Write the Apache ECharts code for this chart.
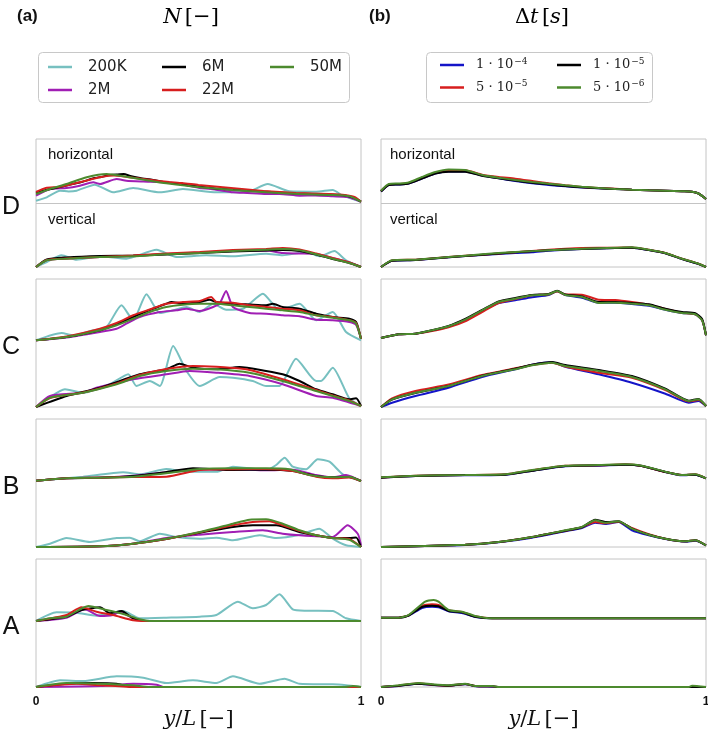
<!DOCTYPE html>
<html><head><meta charset="utf-8">
<script src="https://cdn.jsdelivr.net/npm/echarts@6/dist/echarts.min.js"></script>
<style>html,body{margin:0;padding:0;background:#fff}#c{width:708px;height:732px}</style>
</head><body><div id="c"></div>
<script>
// ---------- categories / names ----------
const rows = ['D','C','B','A'];
const namesA = ['200K','2M','6M','22M','50M'];
const colorsA = ['#77c0c0','#a01eb4','#000000','#d71e1e','#4c8a2e'];
const namesB = ['1 · 10⁻⁴','5 · 10⁻⁵','1 · 10⁻⁵','5 · 10⁻⁶'];
const labelsB = ['{n|1 · 10}{s|−4}','{n|5 · 10}{s|−5}','{n|1 · 10}{s|−5}','{n|5 · 10}{s|−6}'];
const colorsB = ['#1414c8','#d71e1e','#000000','#4c8a2e'];
const xTicks = [0, 1];

// ---------- column (a), panel D ----------
const aD_h_200K = [[0,2.3],[0.033,5.7],[0.074,12.3],[0.10,11.5],[0.125,12.3],[0.181,18.3],[0.237,10.7],[0.299,15],[0.381,10.7],[0.452,14],[0.555,10.7],[0.647,10.7],[0.713,19],[0.780,11.7],[0.862,11.3],[0.913,13],[0.944,7.3],[1,1.3]];
const aD_h_2M = [[0,7.3],[0.043,14],[0.094,15],[0.135,17.3],[0.176,20.7],[0.197,19],[0.248,24],[0.278,22.3],[0.33,21.5],[0.401,20.7],[0.45,18.5],[0.504,15],[0.55,13.5],[0.606,10.7],[0.65,10],[0.708,9],[0.75,9],[0.811,7.3],[0.86,7.5],[0.913,6.7],[0.96,6],[1,1.3]];
const aD_h_6M = [[0,10],[0.03,13],[0.06,15],[0.094,17.5],[0.14,21],[0.18,25],[0.2,26],[0.22,27.5],[0.25,28.5],[0.27,29],[0.29,27],[0.32,25],[0.36,23],[0.40,20.5],[0.45,18.5],[0.5,16.5],[0.55,14.5],[0.6,13.5],[0.65,12.5],[0.7,11.5],[0.75,10.5],[0.8,9.5],[0.85,9],[0.9,8.5],[0.95,7.5],[0.98,5],[1,1.3]];
const aD_h_22M = [[0,11],[0.03,15],[0.07,16],[0.1,18],[0.15,22],[0.2,26],[0.24,27.5],[0.28,26],[0.33,24],[0.38,22],[0.41,21],[0.45,20],[0.5,18],[0.55,16.5],[0.6,15],[0.65,13.5],[0.7,12],[0.75,11],[0.8,10],[0.85,9.5],[0.9,9],[0.95,8],[0.98,6],[1,1.3]];
const aD_h_50M = [[0,9],[0.043,14],[0.094,19],[0.156,25.7],[0.217,29],[0.278,26.3],[0.350,22.3],[0.401,19.7],[0.504,15.7],[0.606,13],[0.708,10.7],[0.811,9],[0.913,8],[0.964,6.7],[1,1.3]];
const aD_v_200K = [[0,0],[0.033,5],[0.079,11.7],[0.125,7.3],[0.197,10.7],[0.278,8.3],[0.371,17.3],[0.432,10],[0.524,11.7],[0.606,10.7],[0.708,13.3],[0.759,11.7],[0.831,15],[0.872,10.7],[0.918,16],[0.954,6.7],[1,0]];
const aD_v_2M = [[0,0],[0.033,7],[0.094,8.5],[0.197,10],[0.299,11],[0.401,13],[0.504,14.5],[0.606,16],[0.708,16.5],[0.759,14],[0.811,13.5],[0.862,13],[0.913,9],[0.964,4.5],[1,0]];
const aD_v_6M = [[0,0],[0.033,7.5],[0.094,9.5],[0.197,11],[0.299,11.5],[0.401,12.5],[0.504,14],[0.606,15.5],[0.708,16.5],[0.759,17],[0.811,16],[0.862,12.5],[0.913,8],[0.964,4],[1,0]];
const aD_v_22M = [[0,0],[0.033,7],[0.094,8.5],[0.197,10],[0.299,11.5],[0.401,13.5],[0.504,15],[0.606,17],[0.708,18],[0.759,19],[0.811,17.5],[0.862,13.5],[0.913,9],[0.964,4.5],[1,0]];
const aD_v_50M = [[0,0],[0.033,6.7],[0.094,8.3],[0.197,10],[0.299,10.7],[0.401,12.7],[0.504,14],[0.606,16],[0.708,17.3],[0.759,18],[0.811,16.7],[0.862,12.7],[0.913,8.3],[0.964,4],[1,0]];

// ---------- column (a), panel C ----------
const aC_h_200K = [[0,2.7],[0.079,10],[0.115,7.7],[0.176,12.7],[0.217,16],[0.263,37.7],[0.299,22.7],[0.340,48.7],[0.381,30],[0.422,32.7],[0.463,36],[0.504,31],[0.545,39.3],[0.585,33.3],[0.637,34.3],[0.698,49.3],[0.749,32.7],[0.811,39.3],[0.862,22.7],[0.913,31],[0.954,11],[1,2.7]];
const aC_h_2M = [[0,2.7],[0.094,5.5],[0.197,11],[0.248,14.3],[0.278,19.3],[0.319,26],[0.381,31],[0.432,32.7],[0.463,34.3],[0.504,32],[0.545,36],[0.565,39.3],[0.585,52],[0.606,36],[0.657,30],[0.708,29.3],[0.759,27.7],[0.811,26.7],[0.862,23.3],[0.913,22.7],[0.964,21],[0.985,18],[1,4.3]];
const aC_h_6M = [[0,2.7],[0.094,6],[0.197,12.7],[0.248,19],[0.299,26],[0.350,33],[0.401,39.3],[0.417,41],[0.452,39.3],[0.504,41],[0.534,43.3],[0.555,41],[0.606,39.3],[0.657,38.5],[0.708,37.7],[0.729,39.3],[0.759,36],[0.811,34.3],[0.862,29.3],[0.913,26],[0.964,24.3],[0.985,21],[1,4.3]];
const aC_h_22M = [[0,2.7],[0.094,6.5],[0.197,14.3],[0.248,20],[0.299,27.7],[0.350,33.5],[0.401,39.3],[0.452,41],[0.504,42],[0.539,46],[0.555,41],[0.606,40.3],[0.657,37.7],[0.708,36],[0.759,34.3],[0.811,32.7],[0.862,27.7],[0.913,26],[0.964,22.7],[0.985,20],[1,4.3]];
const aC_h_50M = [[0,2.7],[0.094,6],[0.197,12.7],[0.248,17.7],[0.299,24.3],[0.350,31],[0.401,36],[0.452,38.3],[0.504,39.3],[0.555,39.3],[0.606,37.7],[0.657,36],[0.708,34.3],[0.759,32.7],[0.811,31],[0.862,27.7],[0.913,25.3],[0.964,22.7],[0.985,19.3],[1,4.3]];
const aC_v_200K = [[0,0],[0.033,7.7],[0.089,17.7],[0.145,14.3],[0.227,22.7],[0.284,32.7],[0.309,21],[0.350,26],[0.381,21],[0.422,61],[0.463,36],[0.504,21],[0.565,30],[0.606,29.3],[0.667,26],[0.708,21],[0.749,21],[0.800,48.3],[0.862,26],[0.877,26],[0.913,39.3],[0.964,8.7],[1,1]];
const aC_v_2M = [[0,0],[0.043,11],[0.145,14.3],[0.186,19.3],[0.299,27.7],[0.401,32.7],[0.473,36],[0.555,34.3],[0.657,31],[0.759,22.7],[0.862,11],[0.913,9.3],[1,1]];
const aC_v_6M = [[0,0],[0.094,11],[0.197,19.3],[0.319,32.7],[0.401,37.7],[0.442,43.3],[0.483,39.3],[0.555,37.7],[0.626,40],[0.708,36],[0.759,32.7],[0.811,26],[0.862,17.7],[0.913,12.7],[0.964,7.7],[0.985,8.7],[1,1]];
const aC_v_22M = [[0,0],[0.043,9],[0.145,14.5],[0.248,23.5],[0.319,32],[0.401,38],[0.483,41],[0.555,40.3],[0.606,39],[0.657,37],[0.759,27.7],[0.862,17],[0.913,11.5],[0.964,6.5],[1,1]];
const aC_v_50M = [[0,0],[0.043,9.3],[0.145,14.3],[0.248,22.7],[0.319,31],[0.401,36],[0.483,38.3],[0.555,37.7],[0.657,34.3],[0.759,26],[0.862,16],[0.913,11],[0.964,6],[1,1]];

// ---------- column (a), panel B ----------
const aB_h_200K = [[0,2.3],[0.145,6.3],[0.268,10.7],[0.319,8.7],[0.401,14],[0.463,11.3],[0.555,11.3],[0.606,16.3],[0.708,13],[0.739,18],[0.765,25.3],[0.790,16.3],[0.831,13.7],[0.867,23.7],[0.903,21.3],[0.944,8.7],[1,2]];
const aB_h_2M = [[0,2.3],[0.094,4.7],[0.197,5.5],[0.299,7.3],[0.401,10.7],[0.504,13.3],[0.606,13.7],[0.708,12.7],[0.790,13.3],[0.862,8],[0.913,5.7],[0.954,8],[1,2]];
const aB_h_6M = [[0,2.3],[0.094,4.7],[0.197,5.3],[0.299,7],[0.401,11],[0.483,14.7],[0.606,13],[0.708,13.3],[0.790,12],[0.862,7],[0.913,5.7],[0.964,6],[1,2]];
const aB_h_22M = [[0,2.3],[0.094,4.7],[0.197,5.3],[0.299,6],[0.401,6.3],[0.504,13],[0.606,13.7],[0.708,14],[0.790,12],[0.862,6.3],[0.913,4.7],[0.964,5.5],[1,2]];
const aB_h_50M = [[0,2.3],[0.094,4.7],[0.197,5.3],[0.299,6.3],[0.401,9.7],[0.504,14],[0.606,14.7],[0.708,14.7],[0.780,13.7],[0.841,8],[0.913,5.7],[0.964,6.3],[1,2]];
const aB_v_200K = [[0,0],[0.043,3.3],[0.094,9],[0.166,5],[0.248,9],[0.289,9.3],[0.319,5.7],[0.381,13.3],[0.432,10],[0.504,8.3],[0.555,9.3],[0.606,6.7],[0.688,11.7],[0.739,9],[0.811,12.3],[0.872,18.3],[0.913,8.3],[0.954,1.7],[1,0]];
const aB_v_2M = [[0,0],[0.197,0.7],[0.299,3.3],[0.401,9],[0.504,12.3],[0.606,15],[0.698,16.7],[0.759,13.3],[0.811,11.7],[0.913,10],[0.959,21.7],[0.990,13.3],[1,1.7]];
const aB_v_6M = [[0,0],[0.197,0.7],[0.299,3.3],[0.401,8],[0.504,14.3],[0.606,20],[0.667,21.7],[0.739,21.7],[0.811,15],[0.862,11.7],[0.913,9],[0.964,9],[0.985,9.5],[1,0]];
const aB_v_22M = [[0,0],[0.197,0.7],[0.299,3.3],[0.401,8],[0.504,14.7],[0.606,21.7],[0.667,25],[0.718,25.7],[0.759,21.7],[0.811,16],[0.862,11.7],[0.913,9],[0.964,8],[1,0]];
const aB_v_50M = [[0,0],[0.197,0.7],[0.299,3.3],[0.401,8.3],[0.504,15],[0.606,23.3],[0.657,27.3],[0.708,27.7],[0.759,23.3],[0.811,16.7],[0.862,11.7],[0.913,9],[0.964,7.3],[1,0]];

// ---------- column (a), panel A ----------
const aA_h_200K = [[0,2],[0.063,10.7],[0.125,10.3],[0.186,7.3],[0.268,12],[0.319,4.7],[0.401,5.3],[0.504,6.3],[0.555,8],[0.621,21.3],[0.667,14.7],[0.708,18],[0.749,28.7],[0.790,13.7],[0.831,12.3],[0.913,12],[0.954,4.7],[1,2]];
const aA_h_2M = [[0,2],[0.094,5.3],[0.150,13.7],[0.197,7],[0.237,8],[0.258,11.3],[0.299,4.7],[0.330,2],[1,2]];
const aA_h_6M = [[0,2],[0.094,6.3],[0.135,12.3],[0.197,15.7],[0.227,9.7],[0.263,12],[0.299,4.7],[0.340,2],[1,2]];
const aA_h_22M = [[0,2],[0.094,8],[0.140,15.7],[0.186,11.3],[0.237,8],[0.299,2.7],[0.330,2],[1,2]];
const aA_h_50M = [[0,2],[0.043,4.7],[0.094,6.3],[0.161,17],[0.217,13],[0.268,9],[0.319,3.7],[0.350,2],[1,2]];
const aA_v_200K = [[0,0],[0.074,6.7],[0.145,6],[0.248,10.7],[0.330,9.3],[0.401,4],[0.483,6.7],[0.555,4],[0.606,10.7],[0.688,3.3],[0.765,8.3],[0.811,3.3],[0.913,2.7],[0.954,1.7],[1,0]];
const aA_v_2M = [[0,0],[0.2,1],[0.299,3.3],[0.371,2.3],[0.391,0],[1,0]];
const aA_v_6M = [[0,0],[0.094,3.3],[0.176,4],[0.248,3.3],[0.299,0],[1,0]];
const aA_v_22M = [[0,0],[0.125,3.3],[0.197,1.7],[0.30,0],[1,0]];
const aA_v_50M = [[0,0],[0.094,4],[0.197,3.3],[0.299,1.7],[0.350,0],[0.95,0],[0.975,1],[1,0]];

// ---------- column (b), panel D ----------
const bD_h_1e4 = [[0,11.5],[0.024,18],[0.054,18.5],[0.085,19.5],[0.126,24.5],[0.167,29.5],[0.208,31.5],[0.259,31.5],[0.311,27.5],[0.362,24.7],[0.413,22],[0.465,19.7],[0.516,18],[0.567,16.7],[0.618,15.5],[0.670,14.7],[0.721,14],[0.772,13.3],[0.824,12.7],[0.875,12.3],[0.926,11.7],[0.957,11.3],[0.977,9.5],[1,4]];
const bD_h_5e5 = [[0,12],[0.024,18.5],[0.054,19],[0.085,20],[0.126,25],[0.167,30],[0.208,32.3],[0.259,32.7],[0.311,28.3],[0.362,26],[0.413,24.3],[0.465,22],[0.516,19.7],[0.567,17.7],[0.618,16],[0.670,15],[0.721,14.3],[0.772,13.3],[0.824,12.7],[0.875,12.3],[0.926,11.7],[0.957,11.3],[0.977,9.5],[1,4]];
const bD_h_1e5 = [[0,11.5],[0.024,18],[0.054,18.5],[0.085,19.5],[0.126,24.5],[0.167,29.5],[0.208,31.3],[0.259,31.3],[0.311,27.3],[0.362,24.7],[0.413,22.5],[0.465,20.3],[0.516,18.7],[0.567,17],[0.618,15.7],[0.670,14.7],[0.721,14],[0.772,13.3],[0.824,12.7],[0.875,12.3],[0.926,11.7],[0.957,11.3],[0.977,9.5],[1,4]];
const bD_h_5e6 = [[0,12.3],[0.024,19],[0.054,19.5],[0.085,20.5],[0.126,26],[0.167,31],[0.208,33.5],[0.259,33],[0.311,28],[0.362,25.3],[0.413,23],[0.465,21],[0.516,19.3],[0.567,17.7],[0.618,16.3],[0.670,15],[0.721,14],[0.772,13.3],[0.824,12.7],[0.875,12.3],[0.926,11.7],[0.957,11.3],[0.977,9.5],[1,4]];
const bD_v_1e4 = [[0,0],[0.034,6.3],[0.106,7],[0.208,9.7],[0.311,12],[0.413,14],[0.465,14.7],[0.516,16.3],[0.618,18],[0.721,19],[0.772,19.3],[0.824,17],[0.875,13.7],[0.926,8],[0.977,3],[1,0]];
const bD_v_5e5 = [[0,0],[0.034,6.5],[0.106,7.3],[0.208,10],[0.311,12.3],[0.413,14.7],[0.516,17.3],[0.567,18.3],[0.618,19],[0.721,19.3],[0.772,19.5],[0.824,17.3],[0.875,14],[0.926,8.3],[0.977,3.3],[1,0]];
const bD_v_1e5 = [[0,0],[0.034,6.3],[0.106,7],[0.208,9.7],[0.311,12.3],[0.413,14.7],[0.516,16.7],[0.618,18],[0.721,19],[0.772,19.3],[0.824,17],[0.875,13.7],[0.926,8],[0.977,3],[1,0]];
const bD_v_5e6 = [[0,0],[0.034,6.7],[0.106,7.3],[0.208,10],[0.311,12.7],[0.413,15],[0.516,16.7],[0.618,18.3],[0.721,19.3],[0.772,19.7],[0.824,17.3],[0.875,14],[0.926,8.3],[0.977,3.3],[1,0]];

// ---------- column (b), panel C ----------
const bC_h_1e4 = [[0,5],[0.054,8.7],[0.106,9.3],[0.157,12.5],[0.208,16.5],[0.259,23],[0.311,32.3],[0.362,40],[0.413,42.7],[0.465,45.7],[0.516,48],[0.542,51.7],[0.567,48],[0.618,45.3],[0.670,40.3],[0.721,40.3],[0.772,39],[0.824,37.3],[0.875,33.3],[0.926,30],[0.967,28.7],[0.988,22.7],[1,7.7]];
const bC_h_5e5 = [[0,5],[0.054,8.7],[0.106,9.3],[0.157,12],[0.208,15.7],[0.259,21.7],[0.311,31],[0.362,40],[0.413,44],[0.465,47.7],[0.516,48.7],[0.542,51.5],[0.567,48.5],[0.618,48.3],[0.670,43.3],[0.721,43],[0.772,41],[0.824,38.3],[0.875,34],[0.926,30.3],[0.967,28.7],[0.988,23],[1,7.7]];
const bC_h_1e5 = [[0,5],[0.054,8.7],[0.106,9.3],[0.157,12.7],[0.208,17],[0.259,24],[0.311,33],[0.362,41.5],[0.413,45],[0.465,48],[0.516,49],[0.542,52.3],[0.567,48.5],[0.618,46.5],[0.670,41],[0.721,41],[0.772,40],[0.824,38.7],[0.875,34.3],[0.926,31],[0.967,29.7],[0.988,24],[1,7.7]];
const bC_h_5e6 = [[0,5],[0.054,8.7],[0.106,9.3],[0.157,12.7],[0.208,16.7],[0.259,23.3],[0.311,32.7],[0.362,41],[0.413,44.3],[0.465,47.7],[0.516,48.7],[0.542,52],[0.567,48],[0.618,46],[0.670,40],[0.721,40.3],[0.772,39.3],[0.824,37.7],[0.875,33.3],[0.926,30],[0.967,28.7],[0.988,22.7],[1,7.7]];
const bC_v_1e4 = [[0,0],[0.034,4.3],[0.106,11],[0.208,19.3],[0.311,30],[0.413,37.7],[0.465,42.3],[0.526,44.7],[0.567,40.3],[0.670,32.7],[0.772,24.3],[0.875,13.3],[0.947,4.3],[0.977,6],[1,1]];
const bC_v_5e5 = [[0,0],[0.034,8.7],[0.106,16],[0.208,22.5],[0.311,32],[0.413,38.7],[0.465,42],[0.526,44.3],[0.567,40.5],[0.670,34.3],[0.772,29.3],[0.875,17],[0.947,5.5],[0.977,7],[1,1]];
const bC_v_1e5 = [[0,0],[0.034,7.5],[0.106,14],[0.208,21],[0.311,31.3],[0.413,38.3],[0.465,42.3],[0.526,45],[0.567,42],[0.670,37],[0.772,31],[0.875,18.3],[0.947,6.3],[0.977,8],[1,1]];
const bC_v_5e6 = [[0,0],[0.034,7.7],[0.106,14.3],[0.208,21],[0.311,31],[0.413,37.7],[0.465,41.7],[0.526,44.3],[0.567,41],[0.670,36],[0.772,30],[0.875,17.7],[0.947,6],[0.977,7.7],[1,1]];

// ---------- column (b), panel B ----------
const bB_h_1e4 = [[0,5.3],[0.106,7],[0.259,7.7],[0.383,8.3],[0.465,12.3],[0.567,16.7],[0.670,17.3],[0.752,18.3],[0.803,17],[0.875,11],[0.926,7.7],[0.967,8.3],[1,4.7]];
const bB_h_5e5 = [[0,5.5],[0.106,7.3],[0.259,8],[0.383,8.7],[0.465,12.7],[0.567,17.3],[0.670,17.7],[0.752,18.7],[0.803,17],[0.875,11],[0.926,8],[0.967,8.7],[1,4.7]];
const bB_h_1e5 = [[0,5.3],[0.106,7],[0.259,8],[0.383,8.3],[0.465,12.3],[0.567,17],[0.670,17.7],[0.752,18.3],[0.803,17],[0.875,11],[0.926,8],[0.967,8.3],[1,4.7]];
const bB_h_5e6 = [[0,5.7],[0.106,7.3],[0.259,8],[0.383,8.7],[0.465,13],[0.567,17.3],[0.670,18],[0.752,18.7],[0.803,17.3],[0.875,11.3],[0.926,8],[0.967,8.7],[1,4.7]];
const bB_v_1e4 = [[0,0],[0.259,2],[0.362,4.7],[0.465,9.3],[0.567,15.7],[0.618,19],[0.659,24.3],[0.690,23],[0.731,25],[0.772,16.7],[0.824,11.7],[0.875,8],[0.936,5.3],[0.967,6.3],[1,1.7]];
const bB_v_5e5 = [[0,0],[0.259,2.3],[0.362,5],[0.465,10],[0.567,16.3],[0.618,19.7],[0.659,25],[0.690,23.7],[0.731,25.3],[0.772,19],[0.824,12.7],[0.875,8.3],[0.936,5.7],[0.967,6.7],[1,1.7]];
const bB_v_1e5 = [[0,0],[0.259,2.3],[0.362,5],[0.465,10],[0.567,16.3],[0.618,19.7],[0.659,27.3],[0.690,25],[0.731,25.7],[0.772,18.3],[0.824,12.3],[0.875,8.3],[0.936,5.7],[0.967,6.7],[1,1.7]];
const bB_v_5e6 = [[0,0],[0.259,2.3],[0.362,5],[0.465,10],[0.567,16.7],[0.618,20],[0.659,26.7],[0.690,24.3],[0.731,25.7],[0.772,18.3],[0.824,12.3],[0.875,8.3],[0.936,5.7],[0.967,6.7],[1,1.7]];

// ---------- column (b), panel A ----------
const bA_h_1e4 = [[0,5.3],[0.054,5.3],[0.085,7.3],[0.126,15],[0.157,16.3],[0.177,15.7],[0.208,11.7],[0.249,10],[0.290,6],[0.342,4.7],[1,4.7]];
const bA_h_5e5 = [[0,5.3],[0.054,5.3],[0.085,7.7],[0.126,17],[0.157,18.7],[0.177,18],[0.208,12.7],[0.249,11],[0.290,6.7],[0.342,4.7],[1,4.7]];
const bA_h_1e5 = [[0,5.3],[0.054,5.3],[0.085,7.5],[0.126,16],[0.157,17.3],[0.177,16.7],[0.208,12],[0.249,10.7],[0.290,6.3],[0.342,4.7],[1,4.7]];
const bA_h_5e6 = [[0,5.3],[0.054,5.3],[0.085,8],[0.136,21.3],[0.162,23],[0.177,21.3],[0.208,13],[0.249,11.3],[0.290,7],[0.342,4.7],[1,4.7]];
const bA_v_1e4 = [[0,0],[0.054,1],[0.116,3.3],[0.157,2],[0.208,1.3],[0.259,2.7],[0.290,0.7],[0.342,0.3],[0.362,0],[1,0]];
const bA_v_5e5 = [[0,0],[0.054,1.3],[0.116,3.7],[0.157,2.3],[0.208,1.3],[0.259,3],[0.290,1],[0.342,0.7],[0.362,0],[1,0]];
const bA_v_1e5 = [[0,0],[0.054,1.3],[0.116,3.3],[0.157,2.3],[0.208,1.3],[0.259,3],[0.290,1],[0.342,0.7],[0.362,0],[1,0]];
const bA_v_5e6 = [[0,0],[0.054,1.7],[0.116,4],[0.157,2.7],[0.208,1.7],[0.259,3.3],[0.290,1],[0.342,1],[0.362,0],[0.947,0],[0.957,1.3],[1,0]];

// ---------- assemble ----------
const panelsA = [
  [[aD_h_200K,aD_h_2M,aD_h_6M,aD_h_22M,aD_h_50M],[aD_v_200K,aD_v_2M,aD_v_6M,aD_v_22M,aD_v_50M]],
  [[aC_h_200K,aC_h_2M,aC_h_6M,aC_h_22M,aC_h_50M],[aC_v_200K,aC_v_2M,aC_v_6M,aC_v_22M,aC_v_50M]],
  [[aB_h_200K,aB_h_2M,aB_h_6M,aB_h_22M,aB_h_50M],[aB_v_200K,aB_v_2M,aB_v_6M,aB_v_22M,aB_v_50M]],
  [[aA_h_200K,aA_h_2M,aA_h_6M,aA_h_22M,aA_h_50M],[aA_v_200K,aA_v_2M,aA_v_6M,aA_v_22M,aA_v_50M]]
];
const panelsB = [
  [[bD_h_1e4,bD_h_5e5,bD_h_1e5,bD_h_5e6],[bD_v_1e4,bD_v_5e5,bD_v_1e5,bD_v_5e6]],
  [[bC_h_1e4,bC_h_5e5,bC_h_1e5,bC_h_5e6],[bC_v_1e4,bC_v_5e5,bC_v_1e5,bC_v_5e6]],
  [[bB_h_1e4,bB_h_5e5,bB_h_1e5,bB_h_5e6],[bB_v_1e4,bB_v_5e5,bB_v_1e5,bB_v_5e6]],
  [[bA_h_1e4,bA_h_5e5,bA_h_1e5,bA_h_5e6],[bA_v_1e4,bA_v_5e5,bA_v_1e5,bA_v_5e6]]
];

const colLeft = [36, 381], panelW = 325, panelH = 128;
const rowTop = [139, 279, 419, 559];
const grids = [], xAxes = [], yAxes = [], series = [];
const mathRich = {
  i: {fontFamily: 'DejaVu Serif', fontStyle: 'italic', fontSize: 21, color: '#111'},
  n: {fontFamily: 'DejaVu Serif', fontSize: 21, color: '#111'}
};

function addPanel(col, r, data, names, colors) {
  const g = grids.length;
  const bottom = r === 3;
  grids.push({left: colLeft[col], top: rowTop[r], width: panelW, height: panelH,
    outerBoundsMode: 'none', containLabel: false,
    show: true, borderColor: '#c4c4c4', borderWidth: 1, backgroundColor: 'transparent'});
  xAxes.push({gridIndex: g, type: 'value', min: xTicks[0], max: xTicks[1], interval: 1,
    show: bottom, axisLine: {show: false}, axisTick: {show: false}, splitLine: {show: false},
    axisLabel: {show: bottom, fontFamily: 'Liberation Sans', fontWeight: 'bold', fontSize: 12, color: '#111', margin: 9},
    name: bottom ? '{i|y}{n|/}{i|L} {n|[−]}' : '', nameLocation: 'middle', nameGap: 21,
    nameTextStyle: {rich: mathRich}});
  yAxes.push({gridIndex: g, type: 'value', min: 0, max: 128, show: false});
  yAxes.push({gridIndex: g, type: 'value', min: -64, max: 64, show: false});
  names.forEach((n, i) => {
    const common = {type: 'line', name: n, xAxisIndex: g, showSymbol: false, symbol: 'none',
      smooth: 0.2, clip: false, animation: false, silent: true,
      lineStyle: {width: 2, color: colors[i]}, itemStyle: {color: colors[i]}};
    const sh = Object.assign({}, common, {yAxisIndex: 2 * g + 1, data: data[0][i]});
    if (r === 0 && i === 0) {
      sh.markLine = {silent: true, symbol: 'none', label: {show: false},
        lineStyle: {color: '#c4c4c4', width: 1, type: 'solid'}, data: [{yAxis: 0}], z: 0};
    }
    series.push(sh);
    series.push(Object.assign({}, common, {yAxisIndex: 2 * g, data: data[1][i]}));
  });
}
for (let r = 0; r < 4; r++) {
  addPanel(0, r, panelsA[r], namesA, colorsA);
  addPanel(1, r, panelsB[r], namesB, colorsB);
}

const legBase = {orient: 'vertical', icon: 'rect', itemWidth: 24, itemHeight: 2.5, itemGap: 7,
  padding: 0, selectedMode: false};
const legA = {textStyle: {fontFamily: 'DejaVu Sans', fontSize: 15, color: '#222', lineHeight: 16, padding: [0, 0, 0, 11]}};
const legB = {
  formatter: name => labelsB[namesB.indexOf(name)],
  textStyle: {color: '#222', padding: [0, 0, 0, 7],
    rich: {
      n: {fontFamily: 'DejaVu Serif', fontSize: 13, color: '#222', lineHeight: 16},
      s: {fontFamily: 'DejaVu Serif', fontSize: 9, color: '#222', padding: [0, 0, 7, 1]}
    }}
};
const legends = [
  Object.assign({}, legBase, legA, {data: ['200K', '2M'], left: 48, top: 59}),
  Object.assign({}, legBase, legA, {data: ['6M', '22M'], left: 162, top: 59}),
  Object.assign({}, legBase, legA, {data: ['50M'], left: 270, top: 59}),
  Object.assign({}, legBase, legB, {data: [namesB[0], namesB[1]], left: 440, top: 57, itemGap: 8}),
  Object.assign({}, legBase, legB, {data: [namesB[2], namesB[3]], left: 557, top: 57, itemGap: 8})
];

function txt(x, y, text, font, align, extra) {
  return Object.assign({type: 'text', x: x, y: y, silent: true,
    style: {text: text, font: font, fill: '#111', align: align || 'left', verticalAlign: 'middle'}}, extra || {});
}
const graphics = [
  {type: 'rect', shape: {x: 38.5, y: 52.5, width: 311, height: 50, r: 4}, style: {fill: 'none', stroke: '#c8c8c8', lineWidth: 1}, silent: true},
  {type: 'rect', shape: {x: 426.5, y: 52.5, width: 226, height: 50, r: 4}, style: {fill: 'none', stroke: '#c8c8c8', lineWidth: 1}, silent: true},
  txt(17, 16, '(a)', 'bold 17px "Liberation Sans"'),
  txt(369, 16, '(b)', 'bold 17px "Liberation Sans"'),
  {type: 'text', x: 191, y: 18, silent: true, style: {text: '{i|N} {n|[−]}', rich: mathRich, align: 'center', verticalAlign: 'middle'}},
  {type: 'text', x: 542, y: 18, silent: true, style: {text: '{n|Δ}{i|t} {n|[}{i|s}{n|]}', rich: mathRich, align: 'center', verticalAlign: 'middle'}},
  txt(48, 155, 'horizontal', '15px "Liberation Sans"'),
  txt(48, 220, 'vertical', '15px "Liberation Sans"'),
  txt(390, 155, 'horizontal', '15px "Liberation Sans"'),
  txt(390, 220, 'vertical', '15px "Liberation Sans"')
];
rows.forEach((lab, r) => graphics.push(txt(11, rowTop[r] + 68, lab, '25px "Liberation Sans"', 'center')));

const chart = echarts.init(document.getElementById('c'), null, {renderer: 'canvas'});
chart.setOption({
  animation: false,
  backgroundColor: '#fff',
  grid: grids, xAxis: xAxes, yAxis: yAxes, series: series,
  legend: legends,
  graphic: graphics
});
</script>
</body></html>
